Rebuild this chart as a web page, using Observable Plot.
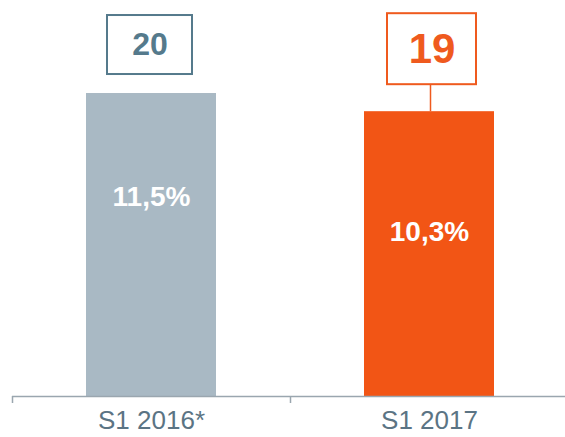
<!DOCTYPE html>
<html><head><meta charset="utf-8">
<script src="https://cdn.jsdelivr.net/npm/d3@7"></script>
<script src="https://cdn.jsdelivr.net/npm/@observablehq/plot@0.6"></script>
<style>body{margin:0;background:#fff} svg{display:block}</style>
</head><body><div id="chart"></div>
<script>
const categories = ["S1 2016*", "S1 2017"];
const values = [20, 18.8];
const rates = ["11,5%", "10,3%"];

// styling (not data)
const barColors = ["#A9B9C4", "#F25515"];
const boxColors = ["#557A8C", "#EF5A1E"];
const W = 565, H = 437, mT = 0, mB = 41;
const yMax = 26.14;
const pxPerUnit = (H - mB - mT) / yMax;
const px = p => p / pxPerUnit;
const boxGap = [19, 27];
const boxH = [59, 71];
const boxInsetL = [95, 97];
const boxInsetR = [98, 92];
const boxFont = [32, 42];
const rateDrop = [104, 120];

const data = categories.map((c, i) => ({c, v: values[i], r: rates[i], i}));

const marks = [
  Plot.barY(data, {x: "c", y: "v", fill: d => barColors[d.i], insetLeft: 74, insetRight: 74}),
  Plot.ruleY([0], {stroke: "#9AA6AF", strokeWidth: 1.5}),
  Plot.ruleX(categories, {x: d => d, dx: -139, y1: 0, y2: 0, insetBottom: -7, stroke: "#9AA6AF", strokeWidth: 1.5}),
  Plot.text(categories, {x: d => d, y: 0, dy: 24, text: d => d, fontSize: 26, fill: "#5B7484"})
];
data.forEach(d => {
  marks.push(Plot.text([d], {x: "c", y: "v", dy: rateDrop[d.i], text: "r", fill: "white", fontWeight: "bold", fontSize: 28}));
  marks.push(Plot.barY([d], {
    x: "c",
    y1: e => e.v + px(boxGap[e.i]),
    y2: e => e.v + px(boxGap[e.i] + boxH[e.i]),
    fill: "white", stroke: boxColors[d.i], strokeWidth: 2,
    insetLeft: boxInsetL[d.i], insetRight: boxInsetR[d.i]
  }));
  marks.push(Plot.text([d], {
    x: "c", y: e => e.v + px(boxGap[e.i] + boxH[e.i] / 2),
    dx: (boxInsetL[d.i] - boxInsetR[d.i]) / 2,
    text: e => String(Math.round(e.v)), fill: boxColors[d.i], fontWeight: "bold", fontSize: boxFont[d.i]
  }));
  if (d.i === 1) {
    marks.push(Plot.ruleX([d], {x: "c", dx: 1, y1: e => e.v, y2: e => e.v + px(boxGap[e.i]), stroke: boxColors[d.i], strokeWidth: 1.5}));
  }
});

const chart = Plot.plot({
  width: W, height: H,
  marginTop: mT, marginBottom: mB, marginLeft: 12, marginRight: 0,
  style: {fontFamily: "'Liberation Sans', Arial, sans-serif", background: "white"},
  x: {domain: categories, range: [12, 568], padding: 0, axis: null},
  y: {domain: [0, yMax], axis: null},
  color: {type: "identity"},
  marks
});
document.getElementById("chart").appendChild(chart);
</script>
</body></html>
